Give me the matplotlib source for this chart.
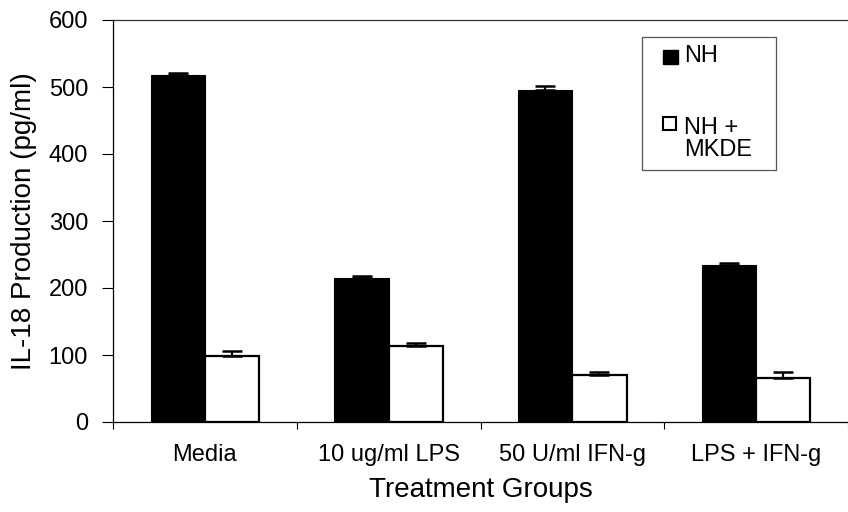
import matplotlib

matplotlib.use("Agg")
import matplotlib.pyplot as plt
import numpy as np
from matplotlib.patches import Rectangle

plt.rcParams["font.family"] = ["Liberation Sans", "DejaVu Sans"]

groups = ["Media", "10 ug/ml LPS", "50 U/ml IFN-g", "LPS + IFN-g"]
series = ["NH", "NH +\nMKDE"]
nh = [518, 215, 495, 235]
nh_err = [3, 3, 6, 3]
mkde = [98, 114, 70, 66]
mkde_err = [8, 4, 4, 8]

W, H = 848, 512
fig = plt.figure(figsize=(W / 100, H / 100), dpi=100)
ax = fig.add_axes([113 / W, 90 / H, 735 / W, 402 / H])

x = np.arange(len(groups))
w = 0.295
ekw = dict(ecolor="black", elinewidth=1.6, capsize=7, capthick=1.8)
ax.bar(x - w / 2, nh, w, color="black", edgecolor="black", linewidth=0.8,
       yerr=[np.zeros(len(nh)), nh_err], error_kw=ekw)
ax.bar(x + w / 2, mkde, w, color="white", edgecolor="black", linewidth=1.6,
       yerr=[np.zeros(len(mkde)), mkde_err], error_kw=ekw)

ax.set_xlim(-0.5, -0.5 + 735 / 186)
ax.set_ylim(0, 600)
ax.set_yticks(range(0, 601, 100))
ax.set_xticks(x)
ax.set_xticklabels(groups, fontsize=17)
ax.set_xticks(np.arange(len(groups) + 1) - 0.5, minor=True)
ax.tick_params(axis="x", which="major", length=0, pad=16)
ax.tick_params(axis="x", which="minor", length=5, width=0.8)
ax.tick_params(axis="y", length=8, width=0.8, labelsize=17, pad=10)

ax.spines["right"].set_visible(False)
for s in ("left", "bottom", "top"):
    ax.spines[s].set_linewidth(0.9)
ax.spines["top"].set_color("#333333")

ax.set_ylabel("IL-18 Production (pg/ml)", fontsize=20, labelpad=8)
ax.set_xlabel("Treatment Groups", fontsize=20, labelpad=8)


# legend box drawn by hand so the square sits on the first text line
def px(xp, yp):
    return xp / W, 1 - yp / H


tf = fig.transFigure
fig.patches.append(Rectangle(px(642, 170), 134 / W, 133 / H, transform=tf,
                             facecolor="white", edgecolor="#555555", linewidth=0.9))
fig.patches.append(Rectangle(px(663, 64), 15 / W, 14 / H, transform=tf,
                             facecolor="black", edgecolor="black", linewidth=1.0))
fig.patches.append(Rectangle(px(663, 130), 13 / W, 13 / H, transform=tf,
                             facecolor="white", edgecolor="black", linewidth=1.5))
fig.text(*px(684, 56), series[0], fontsize=17, va="center", ha="left")
fig.text(*px(684, 117), series[1], fontsize=17, va="top", ha="left", linespacing=1.0)

fig.savefig("out.png", dpi=100)
